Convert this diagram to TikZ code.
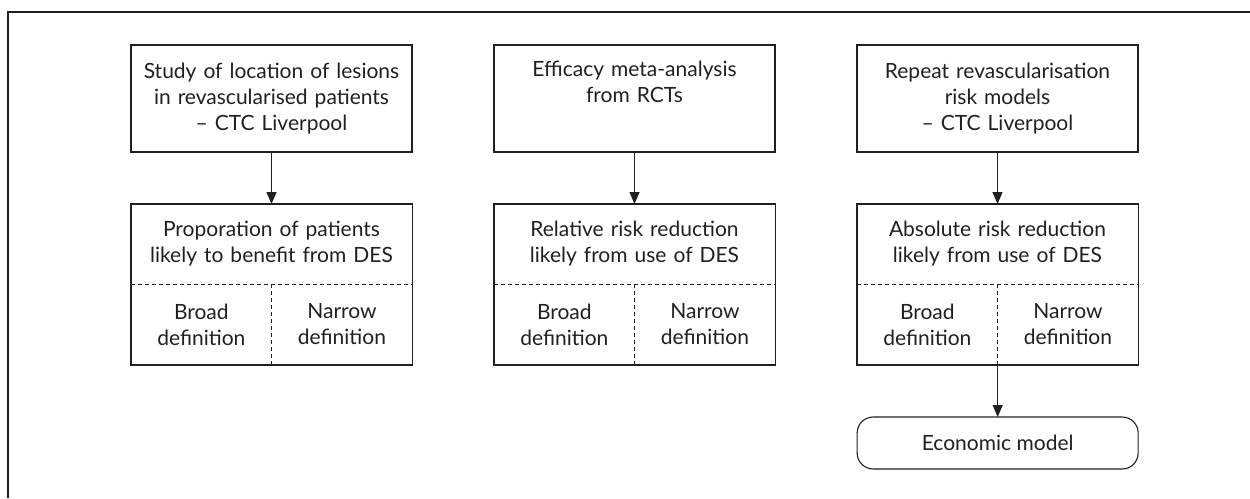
\documentclass[tikz,border=0pt]{standalone}
\usepackage{fontspec}
\setmainfont{Lato}
\usetikzlibrary{arrows.meta,positioning}
\definecolor{ink}{HTML}{231F20}

\begin{document}
\begin{tikzpicture}[x=1pt,y=-1pt,>={Triangle[length=12pt,width=10pt]},
                    node distance=52pt and 82pt,line width=1.1pt,draw=ink,text=ink,
                    main node/.style={rectangle,draw,outer sep=0pt,minimum width=281pt,
                      minimum height=107pt,text width=274pt,align=center,
                      font=\fontsize{21}{26}\selectfont},
                    head node/.style={rectangle,outer sep=0pt,minimum width=281pt,
                      minimum height=80pt,text width=274pt,align=center,
                      font=\fontsize{21}{26}\selectfont},
                    sub node/.style={rectangle,outer sep=0pt,minimum width=140.5pt,
                      minimum height=81pt,text width=134pt,align=center,
                      font=\fontsize{21}{26}\selectfont},
                    end node/.style={rectangle,draw,rounded corners=16pt,outer sep=0pt,
                      minimum width=281pt,minimum height=52pt,
                      font=\fontsize{21}{26}\selectfont},
                    divider/.style={dash pattern=on 4pt off 3pt,line width=0.9pt}]
  \useasboundingbox (0,0) rectangle (1250,498);
  \draw[line width=1.5pt] (1250,12) -- (8,12) -- (8,498);

  % sources
  \node[main node] (top1) at (271.5,98.5) {Study of location of lesions\\in revascularised patients\\– CTC Liverpool};
  \node[main node] (top2) [right=of top1] {Efficacy meta-analysis\\from RCTs\\\strut};
  \node[main node] (top3) [right=of top2] {Repeat revascularisation\\risk models\\– CTC Liverpool};

  % estimates
  \node[head node] (head1) [below=of top1] {Proporation of patients\\likely to benefit from DES};
  \node[head node] (head2) [below=of top2] {Relative risk reduction\\likely from use of DES};
  \node[head node] (head3) [below=of top3] {Absolute risk reduction\\likely from use of DES};
  \foreach \i in {1,2,3} {
    \node[sub node] (broad\i) [below right=0pt and 0pt of head\i.south west] {Broad\\definition};
    \node[sub node] (narrow\i) [right=0pt of broad\i] {Narrow\\definition};
    \draw (head\i.north west) rectangle (narrow\i.south east);
    \draw[divider] (head\i.south west) -- (head\i.south east);
    \draw[divider] (broad\i.north east) -- (broad\i.south east);
    \draw[->] (top\i) -- (head\i);
  }

  % model
  \node[end node] (econ) [below=of broad3.south east] {Economic model};
  \draw[->] (broad3.south east) -- (econ);
\end{tikzpicture}
\end{document}
